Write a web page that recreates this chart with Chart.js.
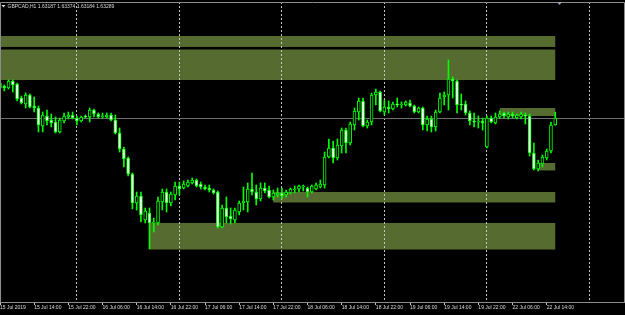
<!DOCTYPE html>
<html>
<head>
<meta charset="utf-8">
<script src="https://cdn.jsdelivr.net/npm/chart.js@4/dist/chart.umd.min.js"></script>
<style>
	html, body { margin: 0; padding: 0; background: #000; }
	canvas { display: block; }
</style>
</head>
<body>
<canvas id="chart" width="625" height="315"></canvas>
<script>
// GBPCAD H1, 15 Jul 06:00 .. 22 Jul 16:00, one entry per hourly bar
const symbol = 'GBPCAD';
const period = 'H1';

const opens = [
	1.63797, 1.63753, 1.63724, 1.63826, 1.63782, 1.63579, 1.63492, 1.63623, 1.63463, 1.63434,
	1.63173, 1.63318, 1.63260, 1.63231, 1.63086, 1.63246, 1.63304, 1.63333, 1.63289, 1.63246,
	1.63318, 1.63304, 1.63405, 1.63347, 1.63304, 1.63304, 1.63333, 1.63260, 1.63072, 1.62840,
	1.62709, 1.62477, 1.62057, 1.62158, 1.61810, 1.61912, 1.61767, 1.61767, 1.62071, 1.62216,
	1.62057, 1.62173, 1.62303, 1.62274, 1.62303, 1.62347, 1.62390, 1.62332, 1.62289, 1.62274,
	1.62245, 1.62216, 1.61709, 1.61984, 1.61868, 1.61810, 1.61926, 1.62057, 1.62071, 1.62260,
	1.62216, 1.62115, 1.62274, 1.62245, 1.62144, 1.62173, 1.62202, 1.62173, 1.62202, 1.62245,
	1.62260, 1.62289, 1.62274, 1.62216, 1.62260, 1.62289, 1.62318, 1.62724, 1.62854, 1.62709,
	1.62883, 1.63115, 1.62927, 1.63188, 1.63376, 1.63536, 1.63173, 1.63231, 1.63623, 1.63666,
	1.63376, 1.63449, 1.63420, 1.63492, 1.63478, 1.63478, 1.63507, 1.63463, 1.63376, 1.63434,
	1.63188, 1.63275, 1.63159, 1.63376, 1.63594, 1.63623, 1.63855, 1.63826, 1.63492, 1.63492,
	1.63362, 1.63246, 1.63231, 1.63246, 1.62869, 1.63289, 1.63217, 1.63304, 1.63362, 1.63304,
	1.63347, 1.63289, 1.63304, 1.63333, 1.63318, 1.62782, 1.62550, 1.62622, 1.62709, 1.62811,
	1.63187
];
const highs = [
	1.63826, 1.63768, 1.63840, 1.63840, 1.63797, 1.63608, 1.63652, 1.63637, 1.63594, 1.63463,
	1.63376, 1.63405, 1.63347, 1.63304, 1.63289, 1.63362, 1.63376, 1.63376, 1.63318, 1.63318,
	1.63333, 1.63434, 1.63420, 1.63362, 1.63362, 1.63362, 1.63362, 1.63333, 1.63144, 1.62869,
	1.62724, 1.62492, 1.62216, 1.62216, 1.61984, 1.61984, 1.61839, 1.62144, 1.62260, 1.62260,
	1.62216, 1.62361, 1.62361, 1.62376, 1.62390, 1.62419, 1.62405, 1.62361, 1.62318, 1.62318,
	1.62260, 1.62231, 1.62028, 1.62144, 1.61984, 1.61984, 1.62086, 1.62289, 1.62347, 1.62492,
	1.62318, 1.62347, 1.62347, 1.62303, 1.62245, 1.62274, 1.62274, 1.62245, 1.62274, 1.62303,
	1.62318, 1.62318, 1.62289, 1.62318, 1.62347, 1.62390, 1.62796, 1.62985, 1.62956, 1.62985,
	1.63144, 1.63144, 1.63231, 1.63434, 1.63579, 1.63579, 1.63260, 1.63652, 1.63710, 1.63681,
	1.63550, 1.63536, 1.63521, 1.63579, 1.63521, 1.63536, 1.63550, 1.63478, 1.63449, 1.63449,
	1.63318, 1.63318, 1.63405, 1.63652, 1.63666, 1.64130, 1.63884, 1.63840, 1.63637, 1.63536,
	1.63391, 1.63362, 1.63318, 1.63289, 1.63318, 1.63318, 1.63362, 1.63391, 1.63376, 1.63376,
	1.63376, 1.63347, 1.63376, 1.63362, 1.63347, 1.62927, 1.62680, 1.62753, 1.62840, 1.63231,
	1.63374
];
const lows = [
	1.63710, 1.63681, 1.63710, 1.63666, 1.63536, 1.63492, 1.63434, 1.63434, 1.63376, 1.63086,
	1.63086, 1.63188, 1.63159, 1.63072, 1.63072, 1.63217, 1.63275, 1.63275, 1.63188, 1.63231,
	1.63289, 1.63231, 1.63304, 1.63289, 1.63289, 1.63289, 1.63246, 1.63057, 1.62796, 1.62579,
	1.62448, 1.61970, 1.61955, 1.61781, 1.61767, 1.61390, 1.61636, 1.61738, 1.61955, 1.61926,
	1.62013, 1.62100, 1.62173, 1.62260, 1.62289, 1.62332, 1.62289, 1.62260, 1.62245, 1.62216,
	1.62187, 1.61694, 1.61694, 1.61767, 1.61752, 1.61767, 1.61883, 1.61955, 1.61926, 1.62173,
	1.62028, 1.62086, 1.62202, 1.62129, 1.62100, 1.62144, 1.62115, 1.62144, 1.62187, 1.62202,
	1.62216, 1.62231, 1.62144, 1.62202, 1.62245, 1.62274, 1.62274, 1.62709, 1.62637, 1.62680,
	1.62782, 1.62782, 1.62898, 1.63115, 1.63260, 1.63159, 1.63144, 1.63188, 1.63478, 1.63376,
	1.63333, 1.63362, 1.63405, 1.63449, 1.63434, 1.63463, 1.63449, 1.63362, 1.63362, 1.63115,
	1.63101, 1.63086, 1.63101, 1.63362, 1.63478, 1.63405, 1.63579, 1.63362, 1.63405, 1.63333,
	1.63188, 1.63159, 1.63144, 1.63115, 1.62854, 1.63217, 1.63202, 1.63289, 1.63289, 1.63275,
	1.63289, 1.63275, 1.63275, 1.63202, 1.62738, 1.62535, 1.62521, 1.62579, 1.62680, 1.62782,
	1.63184
];
const closes = [
	1.63724, 1.63724, 1.63826, 1.63768, 1.63565, 1.63507, 1.63623, 1.63449, 1.63434, 1.63188,
	1.63333, 1.63246, 1.63217, 1.63086, 1.63260, 1.63318, 1.63333, 1.63289, 1.63246, 1.63304,
	1.63304, 1.63405, 1.63347, 1.63304, 1.63318, 1.63333, 1.63260, 1.63072, 1.62840, 1.62695,
	1.62477, 1.62057, 1.62158, 1.61883, 1.61941, 1.61767, 1.61781, 1.62086, 1.62216, 1.62057,
	1.62187, 1.62303, 1.62260, 1.62332, 1.62361, 1.62390, 1.62303, 1.62289, 1.62260, 1.62245,
	1.62202, 1.61709, 1.61984, 1.61854, 1.61825, 1.61955, 1.62057, 1.62086, 1.62260, 1.62216,
	1.62115, 1.62274, 1.62231, 1.62144, 1.62202, 1.62202, 1.62158, 1.62216, 1.62260, 1.62260,
	1.62303, 1.62303, 1.62216, 1.62303, 1.62318, 1.62332, 1.62724, 1.62854, 1.62709, 1.62898,
	1.63115, 1.62927, 1.63202, 1.63391, 1.63536, 1.63173, 1.63231, 1.63623, 1.63666, 1.63391,
	1.63449, 1.63420, 1.63492, 1.63478, 1.63492, 1.63521, 1.63463, 1.63376, 1.63434, 1.63188,
	1.63275, 1.63159, 1.63376, 1.63579, 1.63623, 1.63855, 1.63826, 1.63478, 1.63478, 1.63362,
	1.63246, 1.63231, 1.63246, 1.63217, 1.63289, 1.63231, 1.63304, 1.63347, 1.63318, 1.63347,
	1.63318, 1.63333, 1.63347, 1.63318, 1.62782, 1.62550, 1.62637, 1.62724, 1.62811, 1.63188,
	1.63289
];

// time-axis labels, one every 8 bars starting at bar 0
const tickLabels = [
	'15 Jul 2019', '15 Jul 14:00', '15 Jul 22:00', '16 Jul 06:00', '16 Jul 14:00', '16 Jul 22:00',
	'17 Jul 06:00', '17 Jul 14:00', '17 Jul 22:00', '18 Jul 06:00', '18 Jul 14:00', '18 Jul 22:00',
	'19 Jul 06:00', '19 Jul 14:00', '19 Jul 22:00', '22 Jul 06:00', '22 Jul 14:00'
];
const labelStep = 8;
// day separators (bar index of each 00:00)
const dayBars = [18, 42, 66, 90, 114, 138];

// supply / demand rectangles drawn on the chart (bar index range + price range)
const zoneFrom   = [-10, -10, 117, 126, 64, 35];
const zoneTo     = [130, 130, 130, 130, 130, 130];
const zoneTop    = [1.64478, 1.64282, 1.63434, 1.62637, 1.62216, 1.61767];
const zoneBottom = [1.64319, 1.63840, 1.63318, 1.62528, 1.62064, 1.61382];

const priceMax = 1.64971;
const priceMin = 1.60621;
const barsVisible = 146.1;

const lime = '#00ff00';
const frameGray = '#8c8c8c';
const font = "'Liberation Sans', Arial, sans-serif";

const labelBars = tickLabels.map((_, k) => k * labelStep);
const tickBars = [...labelBars, ...dayBars].sort((a, b) => a - b);

const wicks = lows.map((lo, i) => ({ x: i, y: [lo, highs[i]] }));
const bodies = opens.map((o, i) => ({ x: i, y: [o, closes[i]] }));
const bodyFill = opens.map((o, i) => closes[i] >= o ? '#000000' : '#ffffff');

// canvas background + rectangles go under everything, bid line under the candles,
// frame and header text on top
const terminal = {
	id: 'terminal',
	beforeDraw(chart) {
		const { ctx, scales: { x, y } } = chart;
		ctx.save();
		ctx.fillStyle = '#000';
		ctx.fillRect(0, 0, chart.width, chart.height);
		ctx.fillStyle = '#556B2F';
		zoneTop.forEach((top, k) => {
			const x0 = Math.max(x.getPixelForValue(zoneFrom[k]), chart.chartArea.left);
			const x1 = x.getPixelForValue(zoneTo[k]);
			const y0 = y.getPixelForValue(top);
			const y1 = y.getPixelForValue(zoneBottom[k]);
			ctx.fillRect(x0, y0, x1 - x0, y1 - y0);
		});
		ctx.restore();
	},
	beforeDatasetsDraw(chart) {
		const { ctx, chartArea, scales: { y } } = chart;
		const py = Math.round(y.getPixelForValue(closes[closes.length - 1])) + 0.5;
		ctx.save();
		ctx.strokeStyle = '#6e6e6e';
		ctx.lineWidth = 1;
		ctx.beginPath();
		ctx.moveTo(chartArea.left, py);
		ctx.lineTo(chartArea.right, py);
		ctx.stroke();
		ctx.restore();
	},
	afterDraw(chart) {
		const { ctx, chartArea: a, scales: { x } } = chart;
		ctx.save();
		ctx.strokeStyle = frameGray;
		ctx.lineWidth = 1;
		ctx.beginPath();
		ctx.moveTo(a.left + 0.5, a.bottom);
		ctx.lineTo(a.left + 0.5, a.top + 0.5);
		ctx.lineTo(a.right + 0.5, a.top + 0.5);
		ctx.lineTo(a.right + 0.5, a.bottom);
		ctx.stroke();

		// chart shift marker on the top border
		const sx = x.getPixelForValue(131);
		ctx.fillStyle = '#9aa6b8';
		ctx.beginPath();
		ctx.moveTo(sx - 2.5, a.top);
		ctx.lineTo(sx + 2.5, a.top);
		ctx.lineTo(sx, a.top + 3);
		ctx.closePath();
		ctx.fill();

		// symbol menu arrow + OHLC of the last bar
		ctx.fillStyle = '#d8d8d8';
		ctx.beginPath();
		ctx.moveTo(1.5, 5);
		ctx.lineTo(5.5, 5);
		ctx.lineTo(3.5, 7.5);
		ctx.closePath();
		ctx.fill();
		const n = opens.length - 1;
		const ohlc = [opens[n], highs[n], lows[n], closes[n]].map(v => v.toFixed(5)).join(' ');
		ctx.font = `5px ${font}`;
		ctx.textBaseline = 'middle';
		ctx.fillText(`${symbol},${period} ${ohlc}`, 7.5, 6.5);
		ctx.restore();
	},
};

new Chart(document.getElementById('chart'), {
	type: 'bar',
	data: {
		datasets: [
			{ label: 'wicks', data: wicks, backgroundColor: lime, barThickness: 1, grouped: false, order: 2 },
			{
				label: 'bodies', data: bodies, backgroundColor: bodyFill, borderColor: lime,
				borderWidth: 1, borderSkipped: false, barThickness: 3, minBarLength: 1, grouped: false, order: 1,
			},
		],
	},
	options: {
		responsive: false,
		animation: false,
		events: [],
		layout: { padding: { left: 0, right: 1, top: 2, bottom: 0 } },
		plugins: { legend: { display: false }, tooltip: { enabled: false } },
		scales: {
			x: {
				type: 'linear',
				min: 0,
				max: barsVisible,
				offset: false,
				afterBuildTicks: s => { s.ticks = tickBars.map(v => ({ value: v })); },
				afterFit: s => { s.height = 13; },
				ticks: {
					autoSkip: false, maxRotation: 0, minRotation: 0, align: 'start', padding: 0,
					color: '#dcdcdc', font: { family: font, size: 5 },
					callback: v => (v % labelStep === 0 ? tickLabels[v / labelStep] ?? '' : ''),
				},
				grid: {
					offset: false,
					lineWidth: 1,
					tickLength: 3,
					color: c => (dayBars.includes(c.tick?.value) ? '#c4c4c4' : 'transparent'),
					tickColor: c => (labelBars.includes(c.tick?.value) ? '#c4c4c4' : 'transparent'),
				},
				border: { display: true, color: frameGray, dash: [2, 2] },
			},
			y: { display: false, min: priceMin, max: priceMax },
		},
	},
	plugins: [terminal],
});
</script>
</body>
</html>
